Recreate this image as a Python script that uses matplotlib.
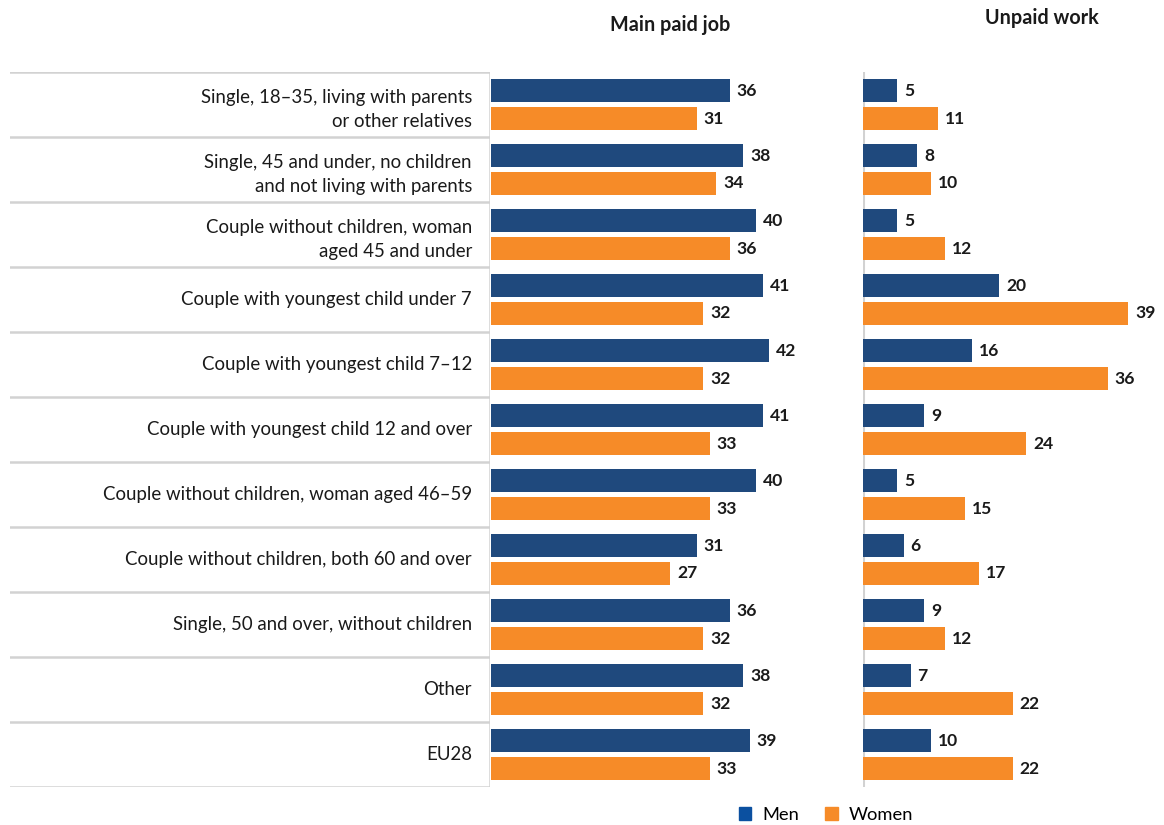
import matplotlib
matplotlib.use("Agg")
import matplotlib.pyplot as plt
from matplotlib.patches import Patch

plt.rcParams['font.family'] = ['Lato', 'DejaVu Sans']

categories = [
    "Single, 18\u201335, living with parents\nor other relatives",
    "Single, 45 and under, no children\nand not living with parents",
    "Couple without children, woman\naged 45 and under",
    "Couple with youngest child under 7",
    "Couple with youngest child 7\u201312",
    "Couple with youngest child 12 and over",
    "Couple without children, woman aged 46\u201359",
    "Couple without children, both 60 and over",
    "Single, 50 and over, without children",
    "Other",
    "EU28",
]
men_paid = [36, 38, 40, 41, 42, 41, 40, 31, 36, 38, 39]
women_paid = [31, 34, 36, 32, 32, 33, 33, 27, 32, 32, 33]
men_unpaid = [5, 8, 5, 20, 16, 9, 5, 6, 9, 7, 10]
women_unpaid = [11, 10, 12, 39, 36, 24, 15, 17, 12, 22, 22]
panel_titles = ["Main paid job", "Unpaid work"]
series_names = ["Men", "Women"]

BLUE = "#1f497d"
ORANGE = "#f68b28"
LEGEND_BLUE = "#0b50a0"
GRID = "#d2d2d2"
TEXT = "#1a1a1a"

W, H = 1164, 825
fig = plt.figure(figsize=(W / 100, H / 100), dpi=100)

top_px, bot_px = 71.7, 786.7
n = len(categories)


def px_axes(x0, x1):
    return fig.add_axes([x0 / W, 1 - bot_px / H, (x1 - x0) / W, (bot_px - top_px) / H])


# label column with row separators
ax_lab = px_axes(10, 490)
ax_lab.set_xlim(0, 1)
ax_lab.set_ylim(n, 0)
ax_lab.axis("off")
for i in range(n + 1):
    ax_lab.axhline(i, color=GRID, lw=1.8, zorder=1)
ax_lab.axvline(1, color=GRID, lw=1.8, zorder=1)
for i, lab in enumerate(categories):
    yc = i + (0.58 if "\n" in lab else 0.51)
    ax_lab.text((472 - 10) / 480, yc, lab, ha="right", va="center",
                fontsize=13.4, color=TEXT, linespacing=1.55)

men_off, women_off, bh = 0.29, 0.72, 0.355


def draw_panel(ax, men, women, xmax):
    ys = range(n)
    ax.barh([y + men_off for y in ys], men, height=bh, color=BLUE, zorder=2)
    ax.barh([y + women_off for y in ys], women, height=bh, color=ORANGE, zorder=2)
    for y, v in zip(ys, men):
        ax.annotate(f"{v}", (v, y + men_off), xytext=(5, 0), textcoords="offset points",
                    ha="left", va="center", fontsize=12.6, fontweight="bold", color=TEXT)
    for y, v in zip(ys, women):
        ax.annotate(f"{v}", (v, y + women_off), xytext=(5, 0), textcoords="offset points",
                    ha="left", va="center", fontsize=12.6, fontweight="bold", color=TEXT)
    ax.set_xlim(0, xmax)
    ax.set_ylim(n, 0)
    ax.axis("off")


ax1 = px_axes(491, 840)
draw_panel(ax1, men_paid, women_paid, 349 / 6.63)

ax2 = px_axes(863, 1164)
draw_panel(ax2, men_unpaid, women_unpaid, 301 / 6.8)
ax2.axvline(0, color=GRID, lw=2.2, zorder=1)

fig.text(670 / W, 1 - 25 / H, panel_titles[0], ha="center", va="center",
         fontsize=14.2, fontweight="bold", color=TEXT)
fig.text(1042 / W, 1 - 18 / H, panel_titles[1], ha="center", va="center",
         fontsize=14.2, fontweight="bold", color=TEXT)

handles = [Patch(color=LEGEND_BLUE, label=series_names[0]),
           Patch(color=ORANGE, label=series_names[1])]
fig.legend(handles=handles, loc="center", bbox_to_anchor=(826 / W, 1 - 815 / H), ncol=2,
           frameon=False, fontsize=13.2, handlelength=0.7, handleheight=0.7,
           handletextpad=0.6, columnspacing=1.4, borderaxespad=0)

fig.savefig("out.png", dpi=100, facecolor="white")
